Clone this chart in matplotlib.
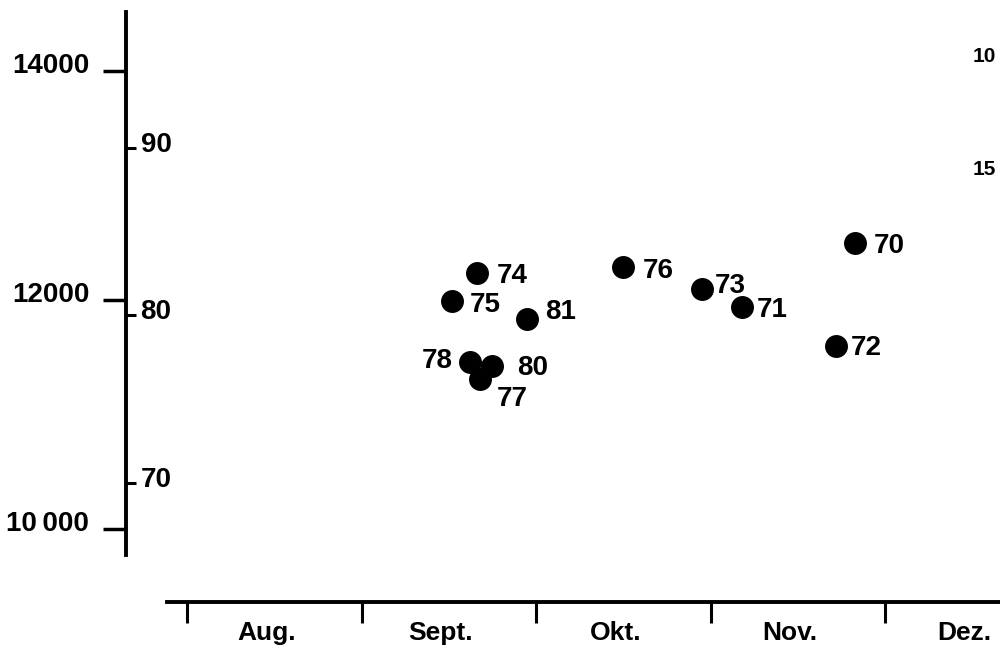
import matplotlib
matplotlib.use("Agg")
import matplotlib.pyplot as plt
from matplotlib.transforms import ScaledTranslation

# ---------------- data ----------------
years = ["70", "71", "72", "73", "74", "75", "76", "77", "78", "80", "81"]
month_pos = [11.83, 11.18, 11.72, 10.95, 9.66, 9.52, 10.50, 9.68, 9.62, 9.75, 9.95]
values = [12500, 11940, 11600, 12100, 12240, 11990, 12290, 11310, 11460, 11420, 11830]
# label offsets (pixels) relative to dot centre
label_dx = [18, 15, 15, 13, 20, 18, 19, 17, -17, 25, 18]
label_dy = [0, 0, 1, 6, 0, -1, -1, -17, 4, 1, 10]

left_ticks = [10000, 12000, 14000]
left_ticklabels = ["10\u2009000", "12000", "14000"]
sec_ticks = [70, 80, 90]
month_ticks = [8, 9, 10, 11, 12]
month_labels = ["Aug.", "Sept.", "Okt.", "Nov.", "Dez."]
right_cut_labels = ["10", "15"]

FN = ["Liberation Sans", "DejaVu Sans"]

fig = plt.figure(figsize=(10, 6.49), dpi=100)
ax = fig.add_axes([0, 0, 1, 1])
ax.patch.set_alpha(0)

PX = 174.5          # pixels per month
PY = 2000 / 229.0   # value per pixel
ax.set_xlim(8 - 187 / PX, 8 + 813 / PX)
ax.set_ylim(12000 - 349 * PY, 12000 + 300 * PY)

def p2s(p):
    return 80 + (p - 11866) / 146.25

# dots
ax.plot(month_pos, values, "o", color="black", markersize=15.5, zorder=5)
for x, y, t, dx, dy in zip(month_pos, values, years, label_dx, label_dy):
    ax.annotate(t, (x, y), xytext=(dx * 0.72, dy * 0.72), textcoords="offset points",
                ha="left" if dx > 0 else "right", va="center_baseline",
                fontsize=20, fontweight="bold", family=FN)

# spines
for s in ["top", "right"]:
    ax.spines[s].set_visible(False)
ax.spines["left"].set_position(("axes", 0.126))
ax.spines["left"].set_linewidth(2.8)
ax.spines["left"].set_bounds(12000 - 255 * PY, 12000 + 288 * PY)
ax.spines["bottom"].set_position(("axes", 47 / 649))
ax.spines["bottom"].set_linewidth(2.8)
ax.spines["bottom"].set_bounds(8 - 20 / PX, 8 + 813 / PX)

# left ticks
ax.set_yticks(left_ticks)
ax.set_yticklabels(left_ticklabels, fontsize=20, fontweight="bold", family=FN)
ax.tick_params(axis="y", which="major", direction="out", length=16.5, width=2.5, pad=10)
up = ScaledTranslation(0, 8 / 100, fig.dpi_scale_trans)
for lab in ax.get_yticklabels():
    lab.set_transform(lab.get_transform() + up)

# x ticks
ax.set_xticks(month_ticks)
ax.set_xticklabels([])
ax.set_xticks([m + 0.455 for m in month_ticks], minor=True)
ax.set_xticklabels(month_labels, minor=True, fontsize=19, fontweight="bold", family=FN)
ax.tick_params(axis="x", which="major", direction="out", length=15, width=2.2)
ax.tick_params(axis="x", which="minor", length=0, pad=14)

# secondary inner scale
ax2 = ax.twinx()
ax2.set_ylim(p2s(ax.get_ylim()[0]), p2s(ax.get_ylim()[1]))
for s in ["top", "left", "bottom", "right"]:
    ax2.spines[s].set_visible(False)
ax2.spines["right"].set_position(("axes", 0.126))
ax2.set_yticks(sec_ticks)
ax2.set_yticklabels([str(t) for t in sec_ticks], fontsize=20, fontweight="bold", family=FN)
ax2.tick_params(axis="y", direction="out", length=7.5, width=2.2, pad=3)
up2 = ScaledTranslation(0, 6 / 100, fig.dpi_scale_trans)
for lab in ax2.get_yticklabels():
    lab.set_transform(lab.get_transform() + up2)

# labels of a right-hand scale at the edge
for lab, yy in zip(right_cut_labels, [56, 170]):
    fig.text(0.996, 1 - yy / 649, lab, ha="right", va="center", fontsize=15,
             fontweight="bold", family=FN)

fig.savefig("out.png", dpi=100)
